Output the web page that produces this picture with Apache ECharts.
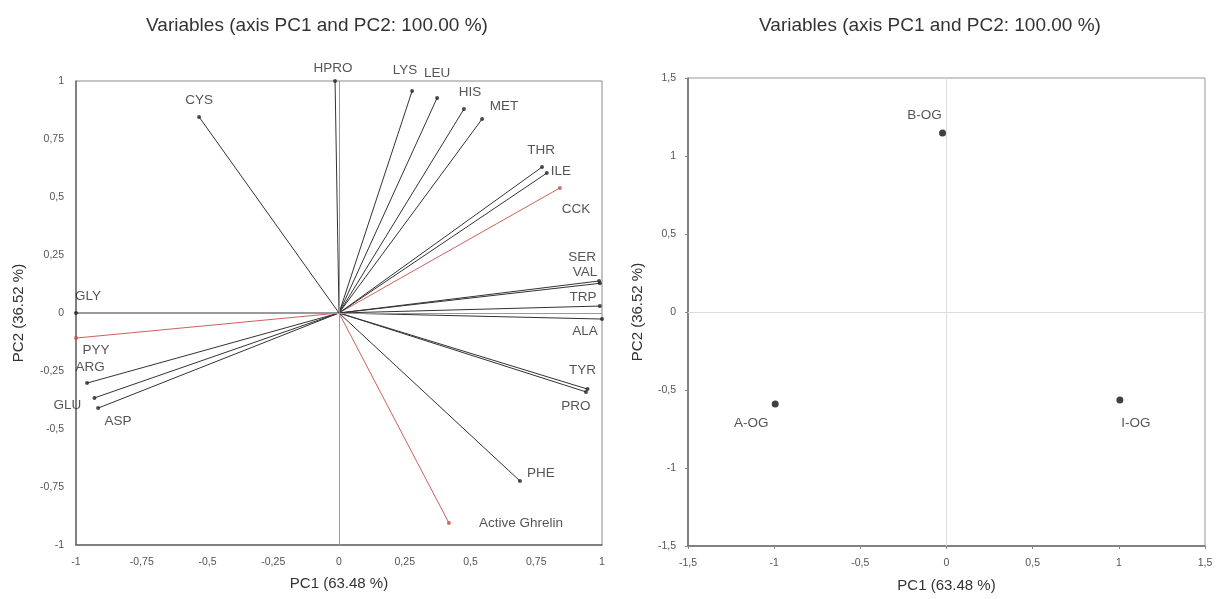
<!DOCTYPE html>
<html>
<head>
<meta charset="utf-8">
<script src="https://cdn.jsdelivr.net/npm/echarts@6/dist/echarts.min.js"></script>
<style>
  html, body { margin: 0; padding: 0; background: #fff; }
  #chart { width: 1223px; height: 599px; }
</style>
</head>
<body>
<div id="chart"></div>
<script>
// variables (correlation circle)
var varNames = ['HPRO', 'CYS', 'LYS', 'LEU', 'HIS', 'MET', 'THR', 'ILE', 'CCK', 'SER', 'VAL',
                'TRP', 'ALA', 'TYR', 'PRO', 'PHE', 'Active Ghrelin', 'GLY', 'PYY', 'ARG', 'GLU', 'ASP'];
var varPC1 = [-0.015, -0.532, 0.278, 0.373, 0.475, 0.544, 0.772, 0.790, 0.840, 0.989, 0.992,
              0.992, 1.000, 0.945, 0.939, 0.688, 0.418, -1.000, -1.000, -0.958, -0.930, -0.916];
var varPC2 = [1.000, 0.845, 0.957, 0.927, 0.879, 0.836, 0.629, 0.603, 0.539, 0.138, 0.128,
              0.030, -0.026, -0.328, -0.340, -0.724, -0.905, 0.000, -0.108, -0.302, -0.366, -0.410];
var redVars = ['CCK', 'Active Ghrelin', 'PYY'];

// observations
var obsNames = ['B-OG', 'A-OG', 'I-OG'];
var obsPC1 = [-0.023, -0.994, 1.006];
var obsPC2 = [1.147, -0.590, -0.564];

var leftTicks = [-1, -0.75, -0.5, -0.25, 0, 0.25, 0.5, 0.75, 1];
var rightTicks = [-1.5, -1, -0.5, 0, 0.5, 1, 1.5];

// label offsets (pixels) for the names
var labelOffsets = {
    'HPRO': [-2, -13], 'CYS': [0, -17], 'LYS': [-7, -21], 'LEU': [0, -25], 'HIS': [6, -17],
    'MET': [22, -13], 'THR': [-1, -17], 'ILE': [14, -2], 'CCK': [16, 21], 'SER': [-17, -24],
    'VAL': [-15, -11], 'TRP': [-17, -9], 'ALA': [-17, 12], 'TYR': [-5, -19], 'PRO': [-10, 14],
    'PHE': [21, -8], 'Active Ghrelin': [72, 0], 'GLY': [12, -17], 'PYY': [20, 12],
    'ARG': [3, -16], 'GLU': [-27, 7], 'ASP': [20, 13],
    'B-OG': [-18, -18], 'A-OG': [-24, 19], 'I-OG': [16, 23]
};

var FONT = 'Liberation Sans';

function fmt(v) {
    return String(v).replace('.', ',');
}

var myChart = echarts.init(document.getElementById('chart'));

var series = [];
for (var i = 0; i < varNames.length; i++) {
    var isRed = redVars.indexOf(varNames[i]) >= 0;
    series.push({
        type: 'line',
        xAxisIndex: 0,
        yAxisIndex: 0,
        data: [[0, 0], [varPC1[i], varPC2[i]]],
        symbol: 'none',
        silent: true,
        z: isRed ? 3 : 4,
        lineStyle: { color: isRed ? '#d0605c' : '#333', width: 1 }
    });
}

var endData = [];
for (var i = 0; i < varNames.length; i++) {
    var isRed = redVars.indexOf(varNames[i]) >= 0;
    endData.push({
        value: [varPC1[i], varPC2[i]],
        name: varNames[i],
        itemStyle: { color: isRed ? '#c0504d' : '#222' },
        label: { offset: labelOffsets[varNames[i]] }
    });
}
series.push({
    type: 'scatter',
    xAxisIndex: 0,
    yAxisIndex: 0,
    symbolSize: 4,
    z: 5,
    data: endData,
    label: {
        show: true,
        position: 'inside',
        formatter: '{b}',
        color: '#2a2a2a',
        fontSize: 13.5,
        fontFamily: FONT
    },
    markLine: {
        silent: true,
        symbol: 'none',
        label: { show: false },
        lineStyle: { color: '#9a9a9a', width: 1, type: 'solid' },
        data: [{ xAxis: 0 }, { yAxis: 0 }]
    }
});

var obsData = [];
for (var i = 0; i < obsNames.length; i++) {
    obsData.push({
        value: [obsPC1[i], obsPC2[i]],
        name: obsNames[i],
        label: { offset: labelOffsets[obsNames[i]] }
    });
}
series.push({
    type: 'scatter',
    xAxisIndex: 1,
    yAxisIndex: 1,
    symbolSize: 7,
    itemStyle: { color: '#111' },
    data: obsData,
    label: {
        show: true,
        position: 'inside',
        formatter: '{b}',
        color: '#2a2a2a',
        fontSize: 13.5,
        fontFamily: FONT
    },
    markLine: {
        silent: true,
        symbol: 'none',
        label: { show: false },
        lineStyle: { color: '#dcdcdc', width: 1, type: 'solid' },
        data: [{ xAxis: 0 }, { yAxis: 0 }]
    }
});

function axisBase(ticks, gridIndex, name, gap, showTicks) {
    return {
        type: 'value',
        gridIndex: gridIndex,
        min: ticks[0],
        max: ticks[ticks.length - 1],
        interval: ticks[1] - ticks[0],
        name: name,
        nameLocation: 'middle',
        nameGap: gap,
        nameTextStyle: { color: '#333', fontSize: 15, fontFamily: FONT },
        axisLine: { onZero: false, lineStyle: { color: '#6a6a6a', width: 1.5 } },
        axisTick: { show: showTicks, length: 3, lineStyle: { color: '#888' } },
        axisLabel: { color: '#555', fontSize: 10.5, fontFamily: FONT, formatter: fmt, margin: 12 },
        splitLine: { show: false }
    };
}

option = {
    animation: false,
    backgroundColor: '#fff',
    title: [
        {
            text: 'Variables (axis PC1 and PC2: 100.00 %)',
            left: 312, top: 11, textAlign: 'center',
            textStyle: { color: '#333', fontSize: 19, fontWeight: 'normal', fontFamily: FONT }
        },
        {
            text: 'Variables (axis PC1 and PC2: 100.00 %)',
            left: 925, top: 11, textAlign: 'center',
            textStyle: { color: '#333', fontSize: 19, fontWeight: 'normal', fontFamily: FONT }
        }
    ],
    grid: [
        { left: 76, top: 81, width: 526, height: 464, show: true, borderColor: '#8a8a8a', borderWidth: 1 },
        { left: 688, top: 78, width: 517, height: 468, show: true, borderColor: '#999', borderWidth: 1 }
    ],
    xAxis: [
        axisBase(leftTicks, 0, 'PC1 (63.48 %)', 31, false),
        axisBase(rightTicks, 1, 'PC1 (63.48 %)', 32, true)
    ],
    yAxis: [
        axisBase(leftTicks, 0, 'PC2 (36.52 %)', 50, false),
        axisBase(rightTicks, 1, 'PC2 (36.52 %)', 43, true)
    ],
    series: series
};

myChart.setOption(option);
</script>
</body>
</html>
